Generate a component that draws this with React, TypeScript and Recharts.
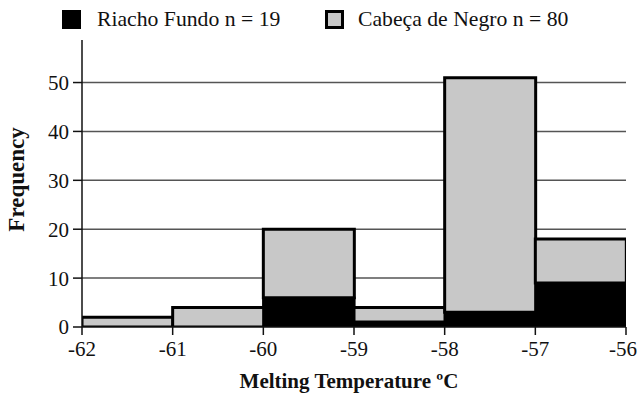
import React from 'react';
import { ComposedChart, Bar, XAxis, YAxis, CartesianGrid } from 'recharts';

const binCenters = [-61.5, -60.5, -59.5, -58.5, -57.5, -56.5];
const riachoFundo = [0, 0, 6, 1, 3, 9];
const cabecaDeNegro = [2, 4, 14, 3, 48, 9];
const xTicks = [-62, -61, -60, -59, -58, -57, -56];
const yTicks = [0, 10, 20, 30, 40, 50];
const legendLabels = ['Riacho Fundo n = 19', 'Cabeça de Negro n = 80'];

const data = binCenters.map((x, i) => ({ x, riacho: riachoFundo[i], cabeca: cabecaDeNegro[i] }));

const FONT = "'Liberation Serif', Tinos, 'DejaVu Serif', 'Times New Roman', serif";

const YLabel = (props: any) => {
  const vb = props.viewBox || {};
  const cy = vb.y + vb.height / 2 - 4;
  return (
    <text x={24} y={cy} transform={`rotate(-90, 24, ${cy})`} textAnchor="middle" style={{ fontFamily: FONT }} fontWeight="bold" fontSize={23} fill="#111">
      Frequency
    </text>
  );
};

const XLabel = (props: any) => {
  const vb = props.viewBox || {};
  const cx = vb.x + vb.width / 2;
  return (
    <text x={cx - 5} y={388} textAnchor="middle" style={{ fontFamily: FONT }} fontWeight="bold" fontSize={21} fill="#111">
      Melting Temperature ºC
    </text>
  );
};

const XTick = (props: any) => {
  const { x, y, payload } = props;
  const tx = Math.min(x, 623);
  return (
    <text x={tx} y={y + 4} dy="0.71em" textAnchor="middle" style={{ fontFamily: FONT }} fontSize={21} fill="#111">
      {payload.value}
    </text>
  );
};

export default function App() {
  return (
    <div style={{ position: 'absolute', left: 0, top: 0, width: 638, height: 394, background: '#fff', fontFamily: FONT }}>
      <ComposedChart width={638} height={394} data={data} margin={{ top: 40, right: 12, bottom: 27, left: 0 }} barCategoryGap={0} barGap={0} style={{ fontFamily: FONT }}>
        <CartesianGrid horizontal={true} vertical={false} stroke="#555" strokeWidth={1.5} horizontalValues={[10, 20, 30, 40, 50]} />
        <XAxis
          dataKey="x"
          type="number"
          domain={[-62, -56]}
          ticks={xTicks}
          interval={0}
          allowDataOverflow
          stroke="#111"
          strokeWidth={1.5}
          tickSize={8}
          height={40}
          tick={<XTick />}
          label={<XLabel />}
        />
        <YAxis
          type="number"
          domain={[0, 58.7]}
          ticks={yTicks}
          interval={0}
          allowDataOverflow
          stroke="#111"
          strokeWidth={1.5}
          tickSize={9}
          width={82}
          tick={{ fontFamily: FONT, fontSize: 21, fill: '#111', style: { fontFamily: FONT } }}
          tickMargin={4}
          label={<YLabel />}
        />
        <Bar dataKey="riacho" stackId="a" fill="#000" stroke="#000" strokeWidth={2.5} isAnimationActive={false} />
        <Bar dataKey="cabeca" stackId="a" fill="#c8c8c8" stroke="#000" strokeWidth={3} isAnimationActive={false} />
      </ComposedChart>
      <div style={{ position: 'absolute', left: 0, top: 0, width: 638, height: 40, fontFamily: FONT, fontSize: 21.7, color: '#111' }}>
        <div style={{ position: 'absolute', left: 62, top: 10, width: 19, height: 19, background: '#000', boxSizing: 'border-box' }} />
        <div style={{ position: 'absolute', left: 97, top: 6, whiteSpace: 'nowrap', lineHeight: '26px' }}>{legendLabels[0]}</div>
        <div style={{ position: 'absolute', left: 325, top: 10, width: 19, height: 19, background: '#c8c8c8', border: '3px solid #000', boxSizing: 'border-box' }} />
        <div style={{ position: 'absolute', left: 358, top: 6, whiteSpace: 'nowrap', lineHeight: '26px' }}>{legendLabels[1]}</div>
      </div>
    </div>
  );
}
